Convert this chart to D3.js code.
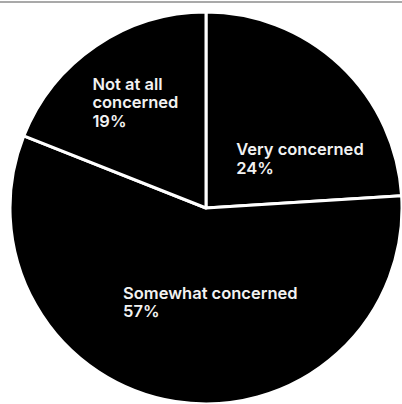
<!DOCTYPE html>
<html>
<head>
<meta charset="utf-8">
<script src="https://cdn.jsdelivr.net/npm/d3@7"></script>
<style>
  html, body { margin: 0; padding: 0; background: #fff; }
  svg { display: block; }
</style>
</head>
<body>
<div id="chart"></div>
<script>
const categories = ["Very concerned", "Somewhat concerned", "Not at all concerned"];
const shares = [24, 57, 19];
// how each label is broken into lines
const labelLines = [["Very concerned"], ["Somewhat concerned"], ["Not at all", "concerned"]];

const w = 402;
const h = 404;
const cx = 206;
const cy = 208;
const r = 196;

const svg = d3
  .select("#chart")
  .append("svg")
  .attr("width", w)
  .attr("height", h);

// thin grey rule along the top
svg
  .append("rect")
  .attr("x", 0)
  .attr("y", 1)
  .attr("width", w)
  .attr("height", 2)
  .attr("fill", "#a9a9a9");

const g = svg.append("g").attr("transform", `translate(${cx}, ${cy})`);

const data = categories.map((c, i) => ({ name: c, value: shares[i], lines: labelLines[i] }));

const pie = d3.pie().sort(null).value((d) => d.value);
const arcs = pie(data);

const arc = d3.arc().innerRadius(0).outerRadius(r);
const labelArc = d3.arc().innerRadius(r * 0.65).outerRadius(r * 0.65);

g.selectAll("path")
  .data(arcs)
  .join("path")
  .attr("d", arc)
  .attr("fill", "#000")
  .attr("stroke", "#fff")
  .attr("stroke-width", 3)
  .attr("stroke-linejoin", "round");

// nudge each label from its centroid
const nudge = [
  [-57, 40],
  [-63, -35],
  [-42, -13]
];

const labels = g
  .selectAll("text")
  .data(arcs)
  .join("text")
  .attr("transform", (d, i) => {
    const c = labelArc.centroid(d);
    return `translate(${c[0] + nudge[i][0]}, ${c[1] + nudge[i][1]})`;
  })
  .attr("fill", "#f2f2f2")
  .attr("font-family", "Inter, 'Liberation Sans', sans-serif")
  .attr("font-weight", 600)
  .attr("font-size", "16.5px");

labels
  .selectAll("tspan")
  .data((d) => d.data.lines.concat([d3.format(".0f")(d.data.value) + "%"]))
  .join("tspan")
  .attr("x", 0)
  .attr("y", (d, i) => i * 18.5)
  .text((d) => d);
</script>
</body>
</html>
